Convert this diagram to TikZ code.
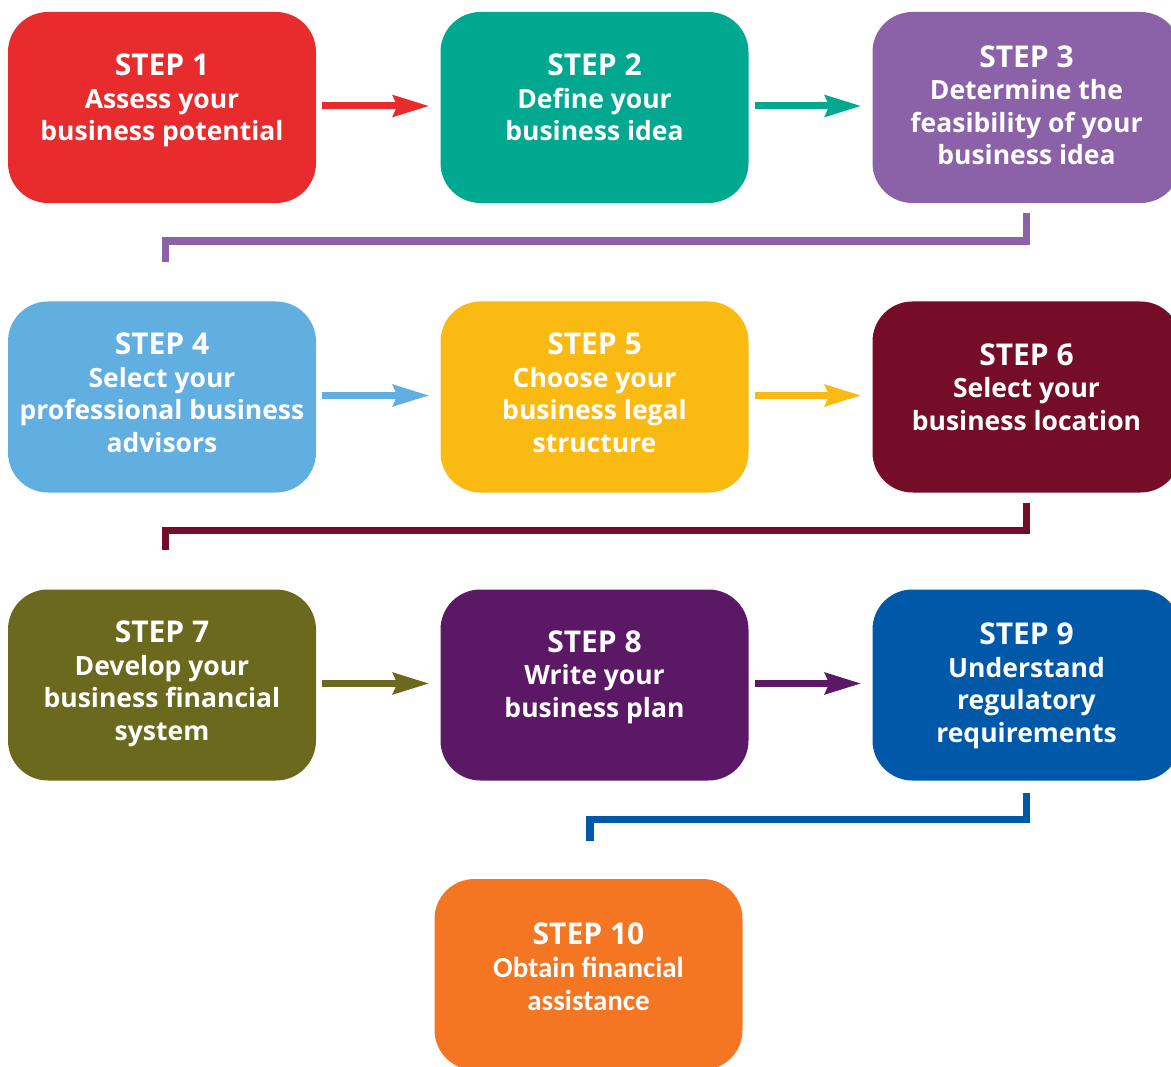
\documentclass[tikz,border=0pt]{standalone}
\usepackage{fontspec}
\usepackage{tikz}
\usetikzlibrary{arrows.meta}
\newfontfamily\gillfont{Open Sans}
\newfontfamily\calfont{Carlito}
\definecolor{StepRed}{RGB}{232,44,46}
\definecolor{StepTeal}{RGB}{0,168,143}
\definecolor{StepLilac}{RGB}{139,98,168}
\definecolor{StepSky}{RGB}{97,174,224}
\definecolor{StepGold}{RGB}{251,186,17}
\definecolor{StepWine}{RGB}{118,13,40}
\definecolor{StepOlive}{RGB}{107,105,29}
\definecolor{StepPlum}{RGB}{90,24,101}
\definecolor{StepBlue}{RGB}{0,89,168}
\definecolor{StepOrange}{RGB}{244,118,34}
\newcommand{\stephead}{\gillfont\bfseries\fontsize{30}{34}\selectfont}
\newcommand{\stepbody}{\gillfont\bfseries\fontsize{26.5}{32.5}\selectfont}

\begin{document}
\begin{tikzpicture}
    [x=1pt, y=-1pt,
     stepbox/.style={rounded corners=40pt, minimum width=308pt,
                     minimum height=191pt, inner sep=0pt},
     steptext/.style={text=white, align=center, inner sep=0pt,
                      font=\stepbody},
     flow/.style={line width=7pt, shorten <=6pt, shorten >=11pt,
                  -{Stealth[length=36pt, width=21pt, inset=4pt]}},
     link/.style={line width=7.5pt},
    ]
    \useasboundingbox (0,0) rectangle (1171,1067);

    \foreach \nm / \col / \cx / \cy / \dy / \txt [count=\si] in
             {s1/StepRed/162/107.5/7/{Assess your\\business potential},
              s2/StepTeal/594.5/107.5/10/{Define your\\business idea},
              s3/StepLilac/1026.5/107.5/2/{Determine the\\feasibility of your\\business idea},
              s4/StepSky/162/397/4/{Select your\\professional business\\advisors},
              s5/StepGold/594.5/397/4/{Choose your\\business legal\\structure},
              s6/StepWine/1026.5/397/10/{Select your\\business location},
              s7/StepOlive/162/685/1/{Develop your\\business financial\\system},
              s8/StepPlum/594.5/685/8/{Write your\\business plan},
              s9/StepBlue/1026.5/685/-1/{Understand\\regulatory\\requirements}} {
        % Box
        \node[stepbox, fill=\col] (\nm) at (\cx, \cy) {};
        % Label
        \node[steptext] (\nm t) at ([yshift=\dy pt]\nm.center)
            {{\stephead STEP \si}\\\txt};
    }

    % Last step
    \node[stepbox, fill=StepOrange] (s10) at (588.5, 974.5) {};
    \node[steptext, font=\calfont\bfseries\fontsize{29}{33}\selectfont]
        (s10t) at ([yshift=8pt]s10.center)
        {{\stephead STEP 10}\\Obtain financial\\assistance};

    % Arrows along the rows
    \draw[flow, StepRed] ([yshift=1.5pt]s1.east) -- ([yshift=1.5pt]s2.west);
    \draw[flow, StepTeal] ([yshift=1.5pt]s2.east) -- ([yshift=1.5pt]s3.west);
    \draw[flow, StepSky] ([yshift=1.5pt]s4.east) -- ([yshift=1.5pt]s5.west);
    \draw[flow, StepGold] ([yshift=1.5pt]s5.east) -- ([yshift=1.5pt]s6.west);
    \draw[flow, StepOlive] ([yshift=1.5pt]s7.east) -- ([yshift=1.5pt]s8.west);
    \draw[flow, StepPlum] ([yshift=1.5pt]s8.east) -- ([yshift=1.5pt]s9.west);

    % Links between the rows
    \draw[link, StepLilac] ([yshift=-10pt]s3.south) -- ++(0,28)
        -| ([xshift=3.5pt, yshift=39pt]s4.north);
    \draw[link, StepWine] ([yshift=-10pt]s6.south) -- ++(0,28)
        -| ([xshift=3.5pt, yshift=39pt]s7.north);
    \draw[link, StepBlue] ([yshift=-12pt]s9.south) -- ++(0,27)
        -| ([xshift=1.5pt, yshift=38pt]s10.north);
\end{tikzpicture}
\end{document}
